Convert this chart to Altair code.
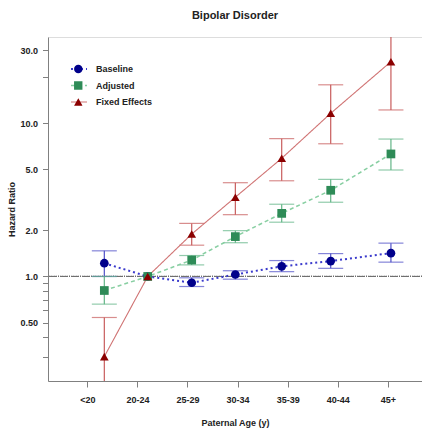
import altair as alt
import pandas as pd

# ---- data ----
age_groups = ["<20", "20-24", "25-29", "30-34", "35-39", "40-44", "45+"]
tick_index = [0, 1, 2, 3, 4, 5, 6]
x_pos = [0.34, 1.206, 2.084, 2.955, 3.88, 4.858, 6.06]  # plotted position of each group

series_names = ["Baseline", "Adjusted", "Fixed Effects"]

baseline_hr = [1.22, 1.0, 0.91, 1.03, 1.165, 1.26, 1.42]
baseline_lo = [1.0, None, 0.86, 0.96, 1.075, 1.13, 1.24]
baseline_hi = [1.47, None, 0.98, 1.09, 1.27, 1.41, 1.65]

adjusted_hr = [0.81, 1.0, 1.28, 1.82, 2.58, 3.65, 6.30]
adjusted_lo = [0.66, None, 1.19, 1.66, 2.26, 3.05, 4.95]
adjusted_hi = [1.0, None, 1.37, 1.99, 2.96, 4.30, 7.88]

fixed_hr = [0.30, 1.0, 1.89, 3.29, 5.90, 11.6, 25.2]
fixed_lo = [0.15, None, 1.60, 2.53, 4.21, 7.34, 12.2]
fixed_hi = [0.54, None, 2.22, 4.09, 7.93, 17.8, 50.0]

y_domain = [0.208, 36.5]
y_tick_values = [0.3, 0.4, 0.5, 0.6, 0.7, 0.8, 0.9, 1, 2, 5, 10, 20, 30]
y_label_values = [0.5, 1, 2, 5, 10, 30]
y_label_texts = ["0.50", "1.0", "2.0", "5.0", "10.0", "30.0"]

marker_colors = ["#00008B", "#2E8B57", "#8B0000"]
line_colors = ["#3a3acc", "#88cfa2", "#d07474"]
ci_colors = ["#5050c8", "#63b587", "#c85c5c"]
line_dashes = [[2, 3], [4, 3], [1, 0]]
line_widths = [2, 1.1, 1.1]

# ---- build table ----
rows = []
for name, hr, lo, hi in [
    ("Baseline", baseline_hr, baseline_lo, baseline_hi),
    ("Adjusted", adjusted_hr, adjusted_lo, adjusted_hi),
    ("Fixed Effects", fixed_hr, fixed_lo, fixed_hi),
]:
    for g, xp, h, l, u in zip(age_groups, x_pos, hr, lo, hi):
        rows.append({"series": name, "group": g, "x": xp, "hr": h, "lo": l, "hi": u})
df = pd.DataFrame(rows)
df_ci = df.dropna(subset=["lo", "hi"])

FONT = "Liberation Sans"
GREY = "#808080"
TXT = "#222222"

label_expr_y = " : ".join(
    f"datum.value == {v} ? '{t}'" for v, t in zip(y_label_values, y_label_texts)
) + " : ''"
label_expr_x = "[" + ",".join(f"'{a}'" for a in age_groups) + "][datum.value]"

x_axis = alt.Axis(
    values=tick_index, labelExpr=label_expr_x, grid=False,
    tickSize=6, tickColor=GREY, domainColor=GREY, labelPadding=8,
    labelFont=FONT, labelFontSize=9, labelFontWeight="bold", labelColor=TXT,
    labelFlush=False, labelOverlap=False,
    title="Paternal Age (y)", titleFont=FONT, titleFontSize=9, titleFontWeight="bold",
    titleColor=TXT, titleY=41, titleBaseline="middle",
)
y_axis = alt.Axis(
    values=y_tick_values, labelExpr=label_expr_y, grid=False,
    tickSize=5.5, tickColor=GREY, domainColor=GREY, labelPadding=5,
    labelFont=FONT, labelFontSize=9, labelFontWeight="bold", labelColor=TXT,
    labelFlush=False, labelOverlap=False,
    title="Hazard Ratio", titleFont=FONT, titleFontSize=9, titleFontWeight="bold",
    titleColor=TXT, titleX=-37, titleY=172, titleBaseline="middle",
)
x_scale = alt.Scale(domain=[-0.784, 6.68], nice=False, zero=False)
y_scale = alt.Scale(type="log", domain=y_domain, nice=False, clamp=True)


def X():
    return alt.X("x:Q", scale=x_scale, axis=x_axis)


def Y(field):
    return alt.Y(f"{field}:Q", scale=y_scale, axis=y_axis)


def sc(rng):
    return alt.Scale(domain=series_names, range=rng)


base = alt.Chart(df)

ref = alt.Chart(df).mark_rule(strokeDash=[1, 1.2], color="#707070", strokeWidth=0.8).encode(
    y=alt.datum(1, scale=y_scale, axis=y_axis)
)

ci_rules = alt.Chart(df_ci).mark_rule(clip=True, strokeWidth=1.2).encode(
    x=X(), y=Y("lo"), y2="hi:Q", color=alt.Color("series:N", scale=sc(ci_colors), legend=None)
)
ci_caps = alt.Chart(df_ci).transform_fold(["lo", "hi"], as_=["end", "val"]).transform_filter(
    f"datum.val >= {y_domain[0]} && datum.val <= {y_domain[1]}"
).mark_tick(orient="horizontal", size=25, thickness=1.2, clip=True).encode(
    x=X(), y=Y("val"), color=alt.Color("series:N", scale=sc(ci_colors), legend=None)
)

line_legend = alt.Legend(
    orient="none", legendX=22, legendY=24, title=None, symbolType="stroke",
    symbolSize=256, symbolStrokeWidth=1.3, clipHeight=16, rowPadding=0.5, padding=0,
    labelOffset=8, labelFont=FONT, labelFontSize=9, labelFontWeight="bold", labelColor=TXT,
)
lines = base.mark_line(clip=True).encode(
    x=X(), y=Y("hr"),
    color=alt.Color("series:N", scale=sc(line_colors), legend=line_legend),
    strokeDash=alt.StrokeDash("series:N", scale=sc(line_dashes), legend=line_legend),
    strokeWidth=alt.StrokeWidth("series:N", scale=sc(line_widths), legend=None),
    order="x:Q",
)

point_legend = alt.Legend(
    orient="none", legendX=25.8, legendY=24, title=None,
    symbolSize=72, symbolStrokeWidth=0, clipHeight=16, rowPadding=0.5, padding=0,
    labelOffset=0, labelExpr="''", labelFontSize=1,
)
points = base.mark_point(filled=True, size=76, opacity=1).encode(
    x=X(), y=Y("hr"),
    color=alt.Color("series:N", scale=sc(marker_colors), legend=point_legend),
    shape=alt.Shape("series:N", scale=sc(["circle", "square", "triangle-up"]), legend=point_legend),
)

chart = alt.layer(ref, ci_rules, ci_caps, lines, points).resolve_scale(
    color="independent", shape="independent", strokeDash="independent", strokeWidth="independent"
).resolve_legend(
    color="independent", shape="independent", strokeDash="independent", strokeWidth="independent"
).properties(
    width=374, height=344,
    padding={"left": 48, "top": 37, "right": 0, "bottom": 51},
    autosize=alt.AutoSizeParams(type="none"),
    title=alt.TitleParams(
        "Bipolar Disorder", font=FONT, fontSize=11, fontWeight="bold", color=TXT,
        anchor="middle", baseline="alphabetic", offset=7,
    ),
).configure_view(stroke=GREY, strokeWidth=1).configure(background="white")

chart.save("out.html", embed_options={"renderer": "svg", "actions": False})
